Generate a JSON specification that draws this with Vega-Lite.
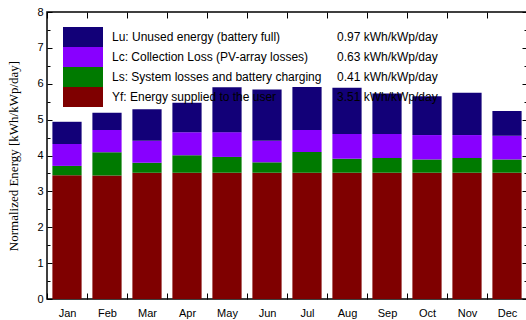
{
  "$schema": "https://vega.github.io/schema/vega-lite/v6.json",
  "width": 480,
  "height": 287,
  "autosize": "none",
  "padding": {"left": 47, "top": 12, "right": 0, "bottom": 21},
  "background": "white",
  "config": {
    "view": {"stroke": "#000", "strokeWidth": 1.5},
    "font": "Liberation Sans"
  },
  "data": {
    "values": [
      {"m": "Jan", "c": "Yf", "v": 3.45, "k": 1, "n": "3.51 kWh/kWp/day"},
      {"m": "Jan", "c": "Ls", "v": 0.26, "k": 2, "n": "0.41 kWh/kWp/day"},
      {"m": "Jan", "c": "Lc", "v": 0.61, "k": 3, "n": "0.63 kWh/kWp/day"},
      {"m": "Jan", "c": "Lu", "v": 0.62, "k": 4, "n": "0.97 kWh/kWp/day"},
      {"m": "Feb", "c": "Yf", "v": 3.44, "k": 1, "n": "3.51 kWh/kWp/day"},
      {"m": "Feb", "c": "Ls", "v": 0.65, "k": 2, "n": "0.41 kWh/kWp/day"},
      {"m": "Feb", "c": "Lc", "v": 0.62, "k": 3, "n": "0.63 kWh/kWp/day"},
      {"m": "Feb", "c": "Lu", "v": 0.48, "k": 4, "n": "0.97 kWh/kWp/day"},
      {"m": "Mar", "c": "Yf", "v": 3.52, "k": 1, "n": "3.51 kWh/kWp/day"},
      {"m": "Mar", "c": "Ls", "v": 0.28, "k": 2, "n": "0.41 kWh/kWp/day"},
      {"m": "Mar", "c": "Lc", "v": 0.61, "k": 3, "n": "0.63 kWh/kWp/day"},
      {"m": "Mar", "c": "Lu", "v": 0.88, "k": 4, "n": "0.97 kWh/kWp/day"},
      {"m": "Apr", "c": "Yf", "v": 3.52, "k": 1, "n": "3.51 kWh/kWp/day"},
      {"m": "Apr", "c": "Ls", "v": 0.49, "k": 2, "n": "0.41 kWh/kWp/day"},
      {"m": "Apr", "c": "Lc", "v": 0.64, "k": 3, "n": "0.63 kWh/kWp/day"},
      {"m": "Apr", "c": "Lu", "v": 0.82, "k": 4, "n": "0.97 kWh/kWp/day"},
      {"m": "May", "c": "Yf", "v": 3.52, "k": 1, "n": "3.51 kWh/kWp/day"},
      {"m": "May", "c": "Ls", "v": 0.44, "k": 2, "n": "0.41 kWh/kWp/day"},
      {"m": "May", "c": "Lc", "v": 0.69, "k": 3, "n": "0.63 kWh/kWp/day"},
      {"m": "May", "c": "Lu", "v": 1.25, "k": 4, "n": "0.97 kWh/kWp/day"},
      {"m": "Jun", "c": "Yf", "v": 3.52, "k": 1, "n": "3.51 kWh/kWp/day"},
      {"m": "Jun", "c": "Ls", "v": 0.29, "k": 2, "n": "0.41 kWh/kWp/day"},
      {"m": "Jun", "c": "Lc", "v": 0.60, "k": 3, "n": "0.63 kWh/kWp/day"},
      {"m": "Jun", "c": "Lu", "v": 1.43, "k": 4, "n": "0.97 kWh/kWp/day"},
      {"m": "Jul", "c": "Yf", "v": 3.52, "k": 1, "n": "3.51 kWh/kWp/day"},
      {"m": "Jul", "c": "Ls", "v": 0.58, "k": 2, "n": "0.41 kWh/kWp/day"},
      {"m": "Jul", "c": "Lc", "v": 0.61, "k": 3, "n": "0.63 kWh/kWp/day"},
      {"m": "Jul", "c": "Lu", "v": 1.20, "k": 4, "n": "0.97 kWh/kWp/day"},
      {"m": "Aug", "c": "Yf", "v": 3.52, "k": 1, "n": "3.51 kWh/kWp/day"},
      {"m": "Aug", "c": "Ls", "v": 0.39, "k": 2, "n": "0.41 kWh/kWp/day"},
      {"m": "Aug", "c": "Lc", "v": 0.69, "k": 3, "n": "0.63 kWh/kWp/day"},
      {"m": "Aug", "c": "Lu", "v": 1.29, "k": 4, "n": "0.97 kWh/kWp/day"},
      {"m": "Sep", "c": "Yf", "v": 3.52, "k": 1, "n": "3.51 kWh/kWp/day"},
      {"m": "Sep", "c": "Ls", "v": 0.41, "k": 2, "n": "0.41 kWh/kWp/day"},
      {"m": "Sep", "c": "Lc", "v": 0.67, "k": 3, "n": "0.63 kWh/kWp/day"},
      {"m": "Sep", "c": "Lu", "v": 1.13, "k": 4, "n": "0.97 kWh/kWp/day"},
      {"m": "Oct", "c": "Yf", "v": 3.52, "k": 1, "n": "3.51 kWh/kWp/day"},
      {"m": "Oct", "c": "Ls", "v": 0.37, "k": 2, "n": "0.41 kWh/kWp/day"},
      {"m": "Oct", "c": "Lc", "v": 0.68, "k": 3, "n": "0.63 kWh/kWp/day"},
      {"m": "Oct", "c": "Lu", "v": 1.08, "k": 4, "n": "0.97 kWh/kWp/day"},
      {"m": "Nov", "c": "Yf", "v": 3.52, "k": 1, "n": "3.51 kWh/kWp/day"},
      {"m": "Nov", "c": "Ls", "v": 0.41, "k": 2, "n": "0.41 kWh/kWp/day"},
      {"m": "Nov", "c": "Lc", "v": 0.64, "k": 3, "n": "0.63 kWh/kWp/day"},
      {"m": "Nov", "c": "Lu", "v": 1.18, "k": 4, "n": "0.97 kWh/kWp/day"},
      {"m": "Dec", "c": "Yf", "v": 3.52, "k": 1, "n": "3.51 kWh/kWp/day"},
      {"m": "Dec", "c": "Ls", "v": 0.37, "k": 2, "n": "0.41 kWh/kWp/day"},
      {"m": "Dec", "c": "Lc", "v": 0.66, "k": 3, "n": "0.63 kWh/kWp/day"},
      {"m": "Dec", "c": "Lu", "v": 0.69, "k": 4, "n": "0.97 kWh/kWp/day"}
    ]
  },
  "layer": [
    {
      "mark": {"type": "bar"},
      "encoding": {
        "x": {
          "field": "m", "type": "nominal",
          "sort": ["Jan","Feb","Mar","Apr","May","Jun","Jul","Aug","Sep","Oct","Nov","Dec"],
          "scale": {"paddingInner": 0.27, "paddingOuter": 0.135},
          "axis": {
            "orient": "bottom", "title": null, "domain": false, "zindex": 1,
            "offset": -6, "ticks": true, "tickSize": 6, "tickOffset": -20, "labelOffset": 20,
            "tickColor": "#000", "tickWidth": 1,
            "labelColor": "#000", "labelFontSize": 11, "labelAngle": 0, "labelPadding": 8
          }
        },
        "y": {
          "field": "v", "type": "quantitative", "stack": "zero",
          "scale": {"domain": [0, 8], "nice": false},
          "axis": {
            "orient": "left", "zindex": 1,
            "title": "Normalized Energy [kWh/kWp/day]",
            "titleFont": "Liberation Serif", "titleFontSize": 13, "titleFontWeight": "normal", "titleColor": "#000",
            "titleX": -27,
            "values": [0,0.5,1,1.5,2,2.5,3,3.5,4,4.5,5,5.5,6,6.5,7,7.5,8],
            "labelExpr": "datum.value % 1 === 0 ? '' + datum.value : ''",
            "tickSize": {"condition": {"test": "datum.value % 1 === 0", "value": -5}, "value": -3},
            "domain": false, "tickColor": "#000",
            "labelColor": "#000", "labelFontSize": 11, "labelPadding": 9,
            "grid": false
          }
        },
        "order": {"field": "k"},
        "fill": {
          "field": "c", "type": "nominal",
          "scale": {"domain": ["Lu","Lc","Ls","Yf"], "range": ["#120078","#8800ff","#007a00","#7f0000"]},
          "legend": {
            "orient": "none", "legendX": 26, "legendY": 15, "title": null, "padding": 0,
            "symbolType": "M-2,-1H2V1H-2Z", "symbolSize": 400, "symbolStrokeWidth": 0, "symbolOpacity": 1,
            "rowPadding": 0, "labelFontSize": 12, "labelColor": "#000", "labelOffset": 19, "labelLimit": 0,
            "labelExpr": "{'Lu':'Lu: Unused energy (battery full)','Lc':'Lc: Collection Loss (PV-array losses)','Ls':'Ls: System losses and battery charging','Yf':'Yf: Energy supplied to the user'}[datum.label]"
          }
        }
      }
    },
    {
      "mark": {"type": "bar", "opacity": 0},
      "encoding": {
        "x": {
          "field": "m", "type": "nominal",
          "sort": ["Jan","Feb","Mar","Apr","May","Jun","Jul","Aug","Sep","Oct","Nov","Dec"],
          "axis": {
            "orient": "top", "title": null, "domain": false, "labels": false, "zindex": 1,
            "offset": -6, "ticks": true, "tickSize": 6, "tickOffset": -20, "tickColor": "#000", "tickWidth": 1
          }
        },
        "y": {
          "field": "v", "type": "quantitative", "stack": "zero",
          "axis": {
            "orient": "right", "title": null, "labels": false, "domain": false, "grid": false, "zindex": 1,
            "values": [0,0.5,1,1.5,2,2.5,3,3.5,4,4.5,5,5.5,6,6.5,7,7.5,8],
            "tickSize": {"condition": {"test": "datum.value % 1 === 0", "value": -5}, "value": -3},
            "tickColor": "#000"
          }
        },
        "order": {"field": "k"},
        "stroke": {
          "field": "n", "type": "nominal",
          "scale": {"domain": ["0.97 kWh/kWp/day","0.63 kWh/kWp/day","0.41 kWh/kWp/day","3.51 kWh/kWp/day"], "range": ["#fff","#fff","#fff","#fff"]},
          "legend": {
            "orient": "none", "legendX": 270, "legendY": 15, "title": null, "padding": 0,
            "symbolType": "M-2,-1H2V1H-2Z", "symbolSize": 400, "symbolOpacity": 0, "symbolStrokeWidth": 0,
            "rowPadding": 0, "labelFontSize": 12, "labelColor": "#000", "labelOffset": 0, "labelLimit": 0
          }
        }
      }
    }
  ],
  "resolve": {"axis": {"x": "independent", "y": "independent"}}
}
